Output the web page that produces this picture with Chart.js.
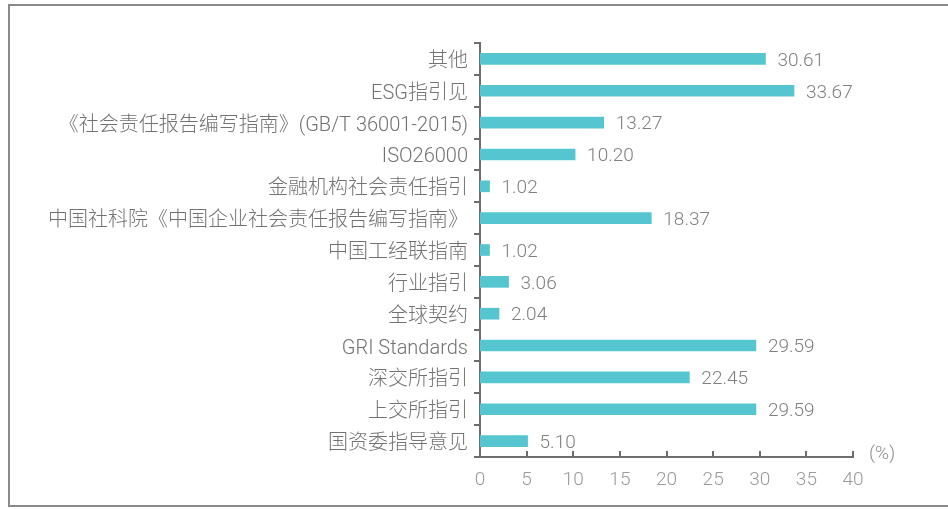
<!DOCTYPE html>
<html>
<head>
<meta charset="utf-8">
<script src="https://cdn.jsdelivr.net/npm/chart.js@4/dist/chart.umd.min.js"></script>
<style>
  html, body { margin: 0; padding: 0; background: #fff; }
  #wrap { width: 948px; height: 509px; position: relative; }
</style>
</head>
<body>
<div id="wrap"><canvas id="myChart" width="948" height="509"></canvas></div>
<script>
var categories = ['其他', 'ESG指引见', '《社会责任报告编写指南》(GB/T 36001-2015)', 'ISO26000',
    '金融机构社会责任指引', '中国社科院《中国企业社会责任报告编写指南》', '中国工经联指南', '行业指引',
    '全球契约', 'GRI Standards', '深交所指引', '上交所指引', '国资委指导意见'];
var values = [30.61, 33.67, 13.27, 10.20, 1.02, 18.37, 1.02, 3.06, 2.04, 29.59, 22.45, 29.59, 5.10];
var xTicks = [0, 5, 10, 15, 20, 25, 30, 35, 40];

var FONT = 'Roboto, "Noto Sans CJK SC", sans-serif';
var AXIS = '#6e6e6e';

var extras = {
    id: 'extras',
    afterDraw: function (chart) {
        var ctx = chart.ctx;
        var x = chart.scales.x, area = chart.chartArea;
        ctx.save();
        // frame
        ctx.strokeStyle = '#8a8a8a';
        ctx.lineWidth = 2;
        ctx.beginPath();
        ctx.moveTo(960, 5); ctx.lineTo(9, 5); ctx.lineTo(9, 506); ctx.lineTo(960, 506);
        ctx.stroke();
        // inward ticks on the x axis
        ctx.strokeStyle = AXIS;
        ctx.lineWidth = 2;
        xTicks.forEach(function (v) {
            var px = Math.round(x.getPixelForValue(v));
            ctx.beginPath();
            ctx.moveTo(px, area.bottom);
            ctx.lineTo(px, area.bottom - 6);
            ctx.stroke();
        });
        // value labels
        ctx.font = '300 19px ' + FONT;
        ctx.fillStyle = '#808080';
        ctx.textBaseline = 'middle';
        ctx.textAlign = 'left';
        chart.getDatasetMeta(0).data.forEach(function (bar, i) {
            ctx.fillText(values[i].toFixed(2), bar.x + 12, bar.y + 2);
        });
        // unit
        ctx.fillStyle = '#909090';
        ctx.fillText('(%)', area.right + 16, area.bottom - 3);
        ctx.restore();
    }
};

var ctx = document.getElementById('myChart').getContext('2d');
var myChart = new Chart(ctx, {
    type: 'bar',
    data: {
        labels: categories,
        datasets: [{
            data: values,
            backgroundColor: '#55c5cf',
            borderWidth: 0,
            barThickness: 11
        }]
    },
    options: {
        indexAxis: 'y',
        responsive: false,
        animation: false,
        layout: { padding: { left: 10, right: 95, top: 43, bottom: 0 } },
        plugins: {
            legend: { display: false },
            tooltip: { enabled: false }
        },
        scales: {
            x: {
                min: 0,
                max: 40,
                afterFit: function (s) { s.height = 52; },
                afterBuildTicks: function (s) { s.ticks = xTicks.map(function (v) { return { value: v }; }); },
                grid: { display: false },
                border: { display: true, color: AXIS, width: 2 },
                ticks: {
                    color: '#9a9a9a',
                    padding: 4,
                    font: { family: FONT, size: 19, weight: '300' }
                }
            },
            y: {
                afterFit: function (s) { s.width = 470; },
                grid: {
                    display: true,
                    offset: true,
                    drawOnChartArea: false,
                    tickLength: 6,
                    color: AXIS,
                    lineWidth: 2
                },
                border: { display: true, color: AXIS, width: 2 },
                ticks: {
                    color: '#727272',
                    padding: 6,
                    labelOffset: 3,
                    autoSkip: false,
                    font: { family: FONT, size: 20, weight: '300' }
                }
            }
        }
    },
    plugins: [extras]
});
</script>
</body>
</html>
